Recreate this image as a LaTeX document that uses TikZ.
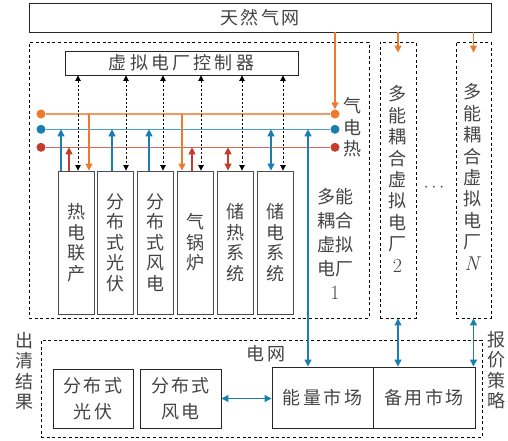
\documentclass[tikz,border=0pt]{standalone}
\usepackage{fontspec}
\newfontfamily\cjk{Noto Sans CJK SC}
\usetikzlibrary{arrows.meta}
\definecolor{gasC}{HTML}{EE7A2E}
\definecolor{gasL}{HTML}{F29A60}
\definecolor{eleC}{HTML}{1A7FB0}
\definecolor{eleL}{HTML}{4AA0CA}
\definecolor{heatC}{HTML}{C43D2B}
\definecolor{heatL}{HTML}{D8695A}
\definecolor{txt}{HTML}{444444}
\newcommand\cjkgap{\kern2.5pt}
\newcommand\cjkgapb{\kern3.2pt}
\begin{document}
\begin{tikzpicture}[x=1pt,y=-1pt,
  cjkf/.style={font=\cjk\fontsize{18}{20.5}\selectfont, text=txt},
  solidbox/.style={draw=black!85, line width=0.9pt, inner sep=0pt, cjkf, align=center},
  dashbox/.style={draw=black, line width=0.9pt, dash pattern=on 3pt off 2.6pt, inner sep=0pt},
  devbox/.style={draw=black!70, line width=0.9pt, minimum width=36pt, minimum height=143pt, inner sep=0pt, cjkf, align=center},
  bus/.style={line width=1.3pt},
  busdot/.style={circle, inner sep=0pt, minimum size=9pt},
  carrow/.style={line width=1.2pt, -{Triangle[length=7pt,width=7pt]}},
  carrows/.style={line width=1.2pt, {Triangle[length=7pt,width=7pt]}-{Triangle[length=7pt,width=7pt]}},
  ctrl/.style={line width=0.9pt, dash pattern=on 2.2pt off 2pt, {Triangle[length=5.5pt,width=5.5pt]}-{Triangle[length=5.5pt,width=5.5pt]}},
  lbl/.style={cjkf, inner sep=0pt, align=center},
]
\useasboundingbox (0,0) rectangle (508,441);

% outer boxes
\node[solidbox, minimum width=462pt, minimum height=29pt] (gas) at (260,17.5) {天\cjkgap 然\cjkgap 气\cjkgap 网};
\node[dashbox, minimum width=340pt, minimum height=276pt] (vpp1) at (199,180) {};
\node[dashbox, minimum width=36pt, minimum height=276pt] (vpp2) at (398,180) {};
\node[dashbox, minimum width=35pt, minimum height=276pt] (vppn) at (473.5,180) {};
\node[solidbox, minimum width=233pt, minimum height=24pt] (ctl) at (181.5,63) {虚\cjkgapb 拟\cjkgapb 电\cjkgapb 厂\cjkgapb 控\cjkgapb 制\cjkgapb 器};

% VPP labels
\node[lbl, font=\cjk\fontsize{18}{24}\selectfont] (l1) at (335,244) {多能\\耦合\\虚拟\\电厂\\{\rmfamily\fontsize{20}{24}\selectfont 1}};
\node[lbl, font=\cjk\fontsize{18}{21.4}\selectfont] (l2) at (397.5,179) {多\\能\\耦\\合\\虚\\拟\\电\\厂\\{\rmfamily\fontsize{20}{21.4}\selectfont 2}};
\node[lbl, font=\cjk\fontsize{18}{21.4}\selectfont] (ln) at (472,177) {多\\能\\耦\\合\\虚\\拟\\电\\厂\\{\rmfamily\itshape\fontsize{20}{21.4}\selectfont N}};
\node[inner sep=0pt, text=txt, font=\fontsize{17}{20}\selectfont] (dots) at (434,187.5) {$\cdots$};

% devices
\node[devbox] (d1) at (76,242.5) {热\\电\\联\\产};
\node[devbox] (d2) at (115.8,242.5) {分\\布\\式\\光\\伏};
\node[devbox] (d3) at (155.6,242.5) {分\\布\\式\\风\\电};
\node[devbox] (d4) at (195.4,242.5) {气\\锅\\炉};
\node[devbox] (d5) at (235.2,242.5) {储\\热\\系\\统};
\node[devbox] (d6) at (275,242.5) {储\\电\\系\\统};

% buses
\node[busdot, fill=gasC] (gL) at (41,114) {};
\node[busdot, fill=gasC] (gR) at (335,114) {};
\node[busdot, fill=eleC] (eL) at (41,129.3) {};
\node[busdot, fill=eleC] (eR) at (335,129.3) {};
\node[busdot, fill=heatC] (hL) at (41,147.3) {};
\node[busdot, fill=heatC] (hR) at (335,147.3) {};
\draw[bus, gasL] (gL) -- (gR);
\draw[bus, eleL] (eL) -- (eR);
\draw[bus, heatL] (hL) -- (hR);
\node[lbl] (lq) at (352.5,106) {气};
\node[lbl] (le) at (352.5,127.5) {电};
\node[lbl] (lh) at (352.5,149) {热};

% column coordinates
\coordinate (b1) at (61,0);   \coordinate (r1) at (69,0);  \coordinate (o1) at (89,0);
\coordinate (b2) at (112,0);
\coordinate (b3) at (149,0);
\coordinate (o4) at (182,0);  \coordinate (r4) at (192,0);
\coordinate (r5) at (228,0);
\coordinate (b6) at (271,0);
\coordinate (bm1) at (308,0);
\coordinate (k1) at (78,0); \coordinate (k2) at (126,0); \coordinate (k3) at (163,0);
\coordinate (k4) at (201,0); \coordinate (k5) at (242,0); \coordinate (k6) at (283,0);

% control links
\draw[ctrl] (ctl.south -| k1) -- (d1.north -| k1);
\draw[ctrl] (ctl.south -| k2) -- (d2.north -| k2);
\draw[ctrl] (ctl.south -| k3) -- (d3.north -| k3);
\draw[ctrl] (ctl.south -| k4) -- (d4.north -| k4);
\draw[ctrl] (ctl.south -| k5) -- (d5.north -| k5);
\draw[ctrl] (ctl.south -| k6) -- (d6.north -| k6);

% energy links
\draw[carrow, eleC] (d1.north -| b1) -- (eL -| b1);
\draw[carrow, heatC] (d1.north -| r1) -- (hL -| r1);
\draw[carrow, gasC] (gL -| o1) -- (d1.north -| o1);
\draw[carrow, eleC] (d2.north -| b2) -- (eL -| b2);
\draw[carrow, eleC] (d3.north -| b3) -- (eL -| b3);
\draw[carrow, gasC] (gL -| o4) -- (d4.north -| o4);
\draw[carrow, heatC] (d4.north -| r4) -- (hL -| r4);
\draw[carrows, heatC] (hL -| r5) -- (d5.north -| r5);
\draw[carrows, eleC] (eL -| b6) -- (d6.north -| b6);

% gas supply
\draw[carrow, gasC] (gas.south -| gR) -- (gR.north);
\draw[carrow, gasC] (gas.south -| vpp2) -- ([yshift=-11pt]vpp2.north);
\draw[carrow, gasC] (gas.south -| vppn) -- ([yshift=-11pt]vppn.north);

% grid part
\node[dashbox, minimum width=441pt, minimum height=97pt] (grid) at (261.5,388.5) {};
\node[lbl] (gl) at (266,354) {电\cjkgap 网};
\node[solidbox, minimum width=80pt, minimum height=59pt, font=\cjk\fontsize{18}{26}\selectfont] (pv) at (93,398.5) {分\cjkgap 布\cjkgap 式\\光\cjkgap 伏};
\node[solidbox, minimum width=81pt, minimum height=59pt, font=\cjk\fontsize{18}{26}\selectfont] (wd) at (180.5,398.5) {分\cjkgap 布\cjkgap 式\\风\cjkgap 电};
\node[solidbox, minimum width=101pt, minimum height=61pt] (em) at (322.5,397.5) {能\cjkgap 量\cjkgap 市\cjkgap 场};
\node[solidbox, minimum width=102pt, minimum height=61pt] (bk) at (424,397.5) {备\cjkgap 用\cjkgap 市\cjkgap 场};
\node[lbl] (qj) at (24,371) {出\\清\\结\\果};
\node[lbl] (bj) at (496,370) {报\\价\\策\\略};

\draw[carrows, eleC] (eL -| bm1) -- (em.north -| bm1);
\draw[carrows, eleC] (wd.east) -- (em.west |- wd.east);
\draw[carrows, eleC] (vpp2.south) -- (vpp2.south |- bk.north);
\draw[carrows, eleC] (vppn.south) -- (vppn.south |- bk.north);
\end{tikzpicture}
\end{document}
